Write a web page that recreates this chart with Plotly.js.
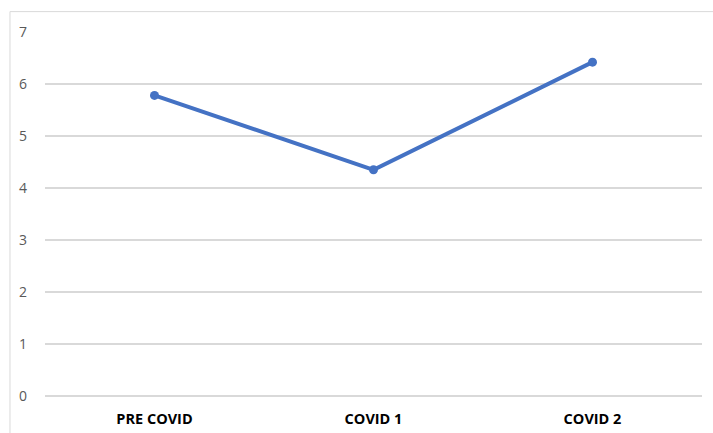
<!DOCTYPE html>
<html>
<head>
<meta charset="utf-8">
<script src="https://cdn.plot.ly/plotly-3.0.1.min.js"></script>
<style>html,body{margin:0;padding:0;background:#fff;}#chart{width:713px;height:433px;}</style>
</head>
<body>
<div id="chart"></div>
<script>
const categories = ["PRE COVID", "COVID 1", "COVID 2"];
const values = [5.78, 4.35, 6.42];
const yTicks = [0, 1, 2, 3, 4, 5, 6, 7];

const trace = {
  x: categories,
  y: values,
  type: "scatter",
  mode: "lines+markers",
  line: {color: "#4472C4", width: 4},
  marker: {color: "#4472C4", size: 9},
  hoverinfo: "skip",
  showlegend: false
};

const layout = {
  width: 713,
  height: 433,
  margin: {l: 45, r: 11, t: 32, b: 37},
  paper_bgcolor: "#ffffff",
  plot_bgcolor: "#ffffff",
  xaxis: {
    type: "category",
    range: [-0.5, 2.5],
    showgrid: false,
    zeroline: false,
    showline: false,
    ticks: "",
    ticklabelstandoff: 12,
    tickfont: {family: "Open Sans, sans-serif", size: 14.5, color: "#000000", weight: "bold"},
    fixedrange: true
  },
  yaxis: {
    range: [0, 7],
    tickvals: yTicks,
    showgrid: true,
    gridcolor: "#d9d9d9",
    gridwidth: 1.3,
    zeroline: true,
    zerolinecolor: "#d9d9d9",
    zerolinewidth: 1.3,
    showline: false,
    ticks: "",
    ticklabelstandoff: 17,
    tickfont: {family: "Open Sans, sans-serif", size: 14, color: "#595959"},
    fixedrange: true
  },
  shapes: [
    {type: "line", xref: "paper", yref: "paper", x0: -0.0533, x1: -0.0533, y0: 1.056, y1: -0.2, line: {color: "#d9d9d9", width: 1}},
    {type: "line", xref: "paper", yref: "paper", x0: -0.0533, x1: 1.02, y0: 1.056, y1: 1.056, line: {color: "#d9d9d9", width: 1}}
  ]
};

Plotly.newPlot("chart", [trace], layout, {displayModeBar: false, staticPlot: true});
</script>
</body>
</html>
